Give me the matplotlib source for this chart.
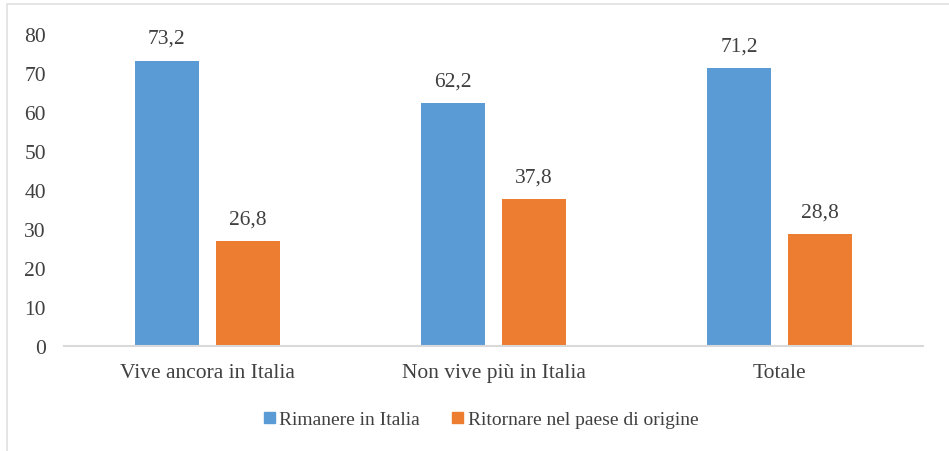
import matplotlib
matplotlib.use("Agg")
import matplotlib.pyplot as plt
from matplotlib.patches import Rectangle, Patch
import numpy as np

categories = ["Vive ancora in Italia", "Non vive più in Italia", "Totale"]
rimanere = [73.2, 62.2, 71.2]
ritornare = [26.8, 37.8, 28.8]
series_names = ["Rimanere in Italia", "Ritornare nel paese di origine"]
yticks = [0, 10, 20, 30, 40, 50, 60, 70, 80]

plt.rcParams['font.family'] = 'serif'
plt.rcParams['font.serif'] = ['Liberation Serif', 'DejaVu Serif']
txt = '#404040'
blue = '#5B9BD5'
orange = '#ED7D31'

fig = plt.figure(figsize=(9.49, 4.52), dpi=100)
ax = fig.add_axes([64/949, 1-347/452, (923-64)/949, (347-35)/452])

x = np.arange(len(categories))
w = 0.224
off = 0.1415
b1 = ax.bar(x - off, rimanere, w, color=blue, label=series_names[0])
b2 = ax.bar(x + off, ritornare, w, color=orange, label=series_names[1])

for bars, vals in ((b1, rimanere), (b2, ritornare)):
    for b, v in zip(bars, vals):
        ax.annotate(f"{v:.1f}".replace('.', ','), (b.get_x() + b.get_width()/2, v),
                    xytext=(0, 9), textcoords='offset points', ha='center', va='bottom',
                    fontsize=15.5, color=txt)

ax.set_xlim(-0.5, 2.5)
ax.set_ylim(0, 80)
ax.set_yticks(yticks)
ax.set_xticks(x)
ax.set_xticklabels(categories)
for s in ['top', 'right', 'left']:
    ax.spines[s].set_visible(False)
ax.spines['bottom'].set_color('#D9D9D9')
ax.spines['bottom'].set_linewidth(1.5)
ax.tick_params(axis='both', length=0, labelsize=15.5, labelcolor=txt)
ax.tick_params(axis='y', pad=13)
ax.tick_params(axis='x', pad=12.5)

handles = [Patch(color=blue), Patch(color=orange)]
fig.legend(handles, series_names, loc='center', bbox_to_anchor=(0.507, 1-421/452),
           ncol=2, frameon=False, fontsize=14, labelcolor=txt,
           handlelength=0.55, handleheight=0.55, handletextpad=0.25, columnspacing=1.65)

fig.patches.append(Rectangle((7/949, -0.5), 2, 0.5 + 1 - 5/452, transform=fig.transFigure,
                             fill=False, edgecolor='#E0E0E0', linewidth=1.2))

fig.savefig('out.png', dpi=100)
